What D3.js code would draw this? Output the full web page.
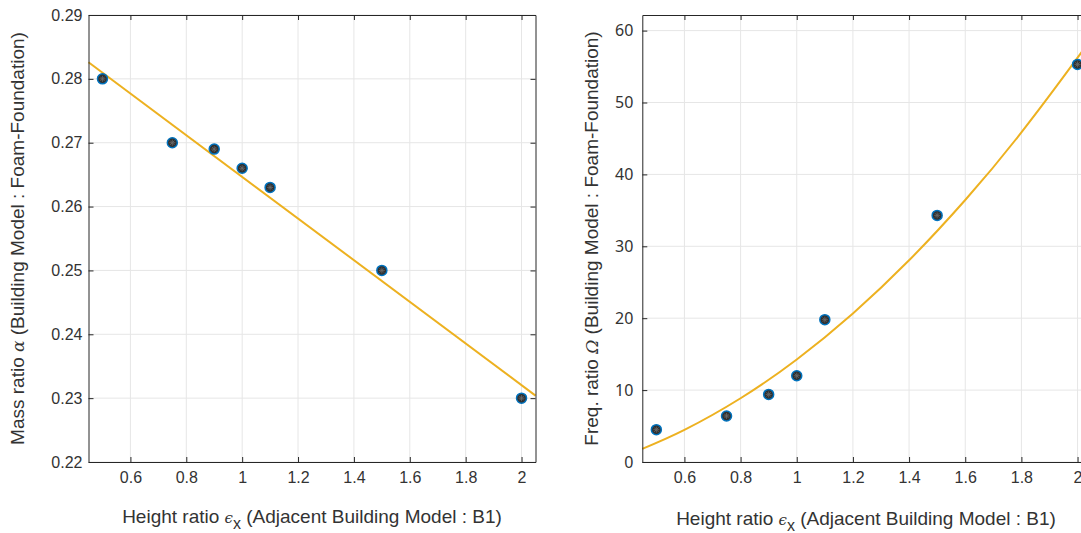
<!DOCTYPE html>
<html>
<head>
<meta charset="utf-8">
<script src="https://cdn.jsdelivr.net/npm/d3@7"></script>
<style>
  body { margin: 0; background: #fff; }
  svg { display: block; }
  .tick text { fill: #333; }
</style>
</head>
<body>
<svg id="chart" width="1081" height="533"></svg>
<script>
// measured points
var heightRatio = [0.5, 0.75, 0.9, 1.0, 1.1, 1.5, 2.0];
var massRatio = [0.280, 0.270, 0.269, 0.266, 0.263, 0.250, 0.230];
var freqRatio = [4.5, 6.4, 9.4, 12.0, 19.8, 34.3, 55.3];

// fitted lines
var massFitX = [0.45, 2.05];
var massFitY = [0.2826, 0.2304];
var freqFitX = [0.45, 0.6, 0.8, 1.0, 1.2, 1.4, 1.6, 1.8, 2.0, 2.05];
var freqFitY = [1.83, 4.47, 8.87, 14.26, 20.66, 28.05, 36.44, 45.84, 56.23, 58.99];

// ticks
var xTicks = [0.6, 0.8, 1, 1.2, 1.4, 1.6, 1.8, 2];
var massTicks = [0.22, 0.23, 0.24, 0.25, 0.26, 0.27, 0.28, 0.29];
var freqTicks = [0, 10, 20, 30, 40, 50, 60];

var svg = d3.select("#chart");
var plotTop = 15, plotBottom = 462;
var axisColor = "#262626";
var textColor = "#333";
var gridColor = "#e6e6e6";
var fitColor = "#EDB120";

function fmt(v){ return String(+v.toFixed(3)); }

function panel(opt){
  var x = d3.scaleLinear().domain([0.45, 2.05]).range([opt.left, opt.right]);
  var y = d3.scaleLinear().domain(opt.ydom).range([plotBottom, plotTop]);
  var g = svg.append("g");

  //grid
  g.selectAll(".gx").data(xTicks).enter().append("line")
    .attr("x1", function(d){ return x(d); }).attr("x2", function(d){ return x(d); })
    .attr("y1", plotTop).attr("y2", plotBottom)
    .attr("stroke", gridColor).attr("stroke-width", 1);
  g.selectAll(".gy").data(opt.yticks).enter().append("line")
    .attr("x1", opt.left).attr("x2", opt.right)
    .attr("y1", function(d){ return y(d); }).attr("y2", function(d){ return y(d); })
    .attr("stroke", gridColor).attr("stroke-width", 1);

  // fit
  var line = d3.line()
    .x(function(d){ return x(d[0]); })
    .y(function(d){ return y(d[1]); })
    .curve(d3.curveNatural);
  var fit = opt.fitX.map(function(v, i){ return [v, opt.fitY[i]]; });
  g.append("path").datum(fit)
    .attr("d", line)
    .attr("fill", "none")
    .attr("stroke", fitColor)
    .attr("stroke-width", 2);

  // markers
  var pts = heightRatio.map(function(v, i){ return [v, opt.yvals[i]]; });
  var m = g.selectAll(".pt").data(pts).enter().append("g")
    .attr("transform", function(d){ return "translate(" + x(d[0]) + "," + y(d[1]) + ")"; });
  m.append("circle").attr("r", 5)
    .attr("fill", "#2f2f2f").attr("stroke", "#0072BD").attr("stroke-width", 1.5);
  [0, 45, 90, 135].forEach(function(a){
    m.append("line").attr("x1", -3).attr("x2", 3).attr("y1", 0).attr("y2", 0)
      .attr("transform", "rotate(" + a + ")")
      .attr("stroke", "#6a6a6a").attr("stroke-width", 0.8);
  });

  // axes
  var xb = d3.axisBottom(x).tickValues(xTicks).tickFormat(fmt).tickSizeInner(-5).tickSizeOuter(0).tickPadding(10);
  var xt = d3.axisTop(x).tickValues(xTicks).tickFormat("").tickSizeInner(-5).tickSizeOuter(0);
  var yl = d3.axisLeft(y).tickValues(opt.yticks).tickFormat(fmt).tickSizeInner(-5).tickSizeOuter(0).tickPadding(opt.ypad);
  var yr = d3.axisRight(y).tickValues(opt.yticks).tickFormat("").tickSizeInner(-5).tickSizeOuter(0);

  var gb = g.append("g").attr("transform", "translate(0," + plotBottom + ")").call(xb);
  g.append("g").attr("transform", "translate(0," + plotTop + ")").call(xt);
  var gl = g.append("g").attr("transform", "translate(" + opt.left + ",0)").call(yl);
  g.append("g").attr("transform", "translate(" + opt.right + ",0)").call(yr);

  g.selectAll(".domain, .tick line").attr("stroke", axisColor);
  gb.selectAll("text").style("font-family", "'Liberation Sans', Arial, sans-serif").style("font-size", opt.xfs + "px");
  gl.selectAll("text").style("font-family", opt.yfont).style("font-size", opt.yfs + "px");
  g.selectAll(".domain").attr("stroke-width", 1);

  // x label
  var xl = g.append("text")
    .attr("x", opt.xlabX)
    .attr("y", opt.xlabY)
    .attr("text-anchor", "middle")
    .attr("fill", textColor)
    .style("font-family", "'Liberation Sans', Arial, sans-serif")
    .style("font-size", "19px");
  xl.append("tspan").text("Height ratio ");
  xl.append("tspan").text("\u03f5").style("font-family", "'DejaVu Serif', serif").style("font-style", "italic").style("font-size", "15px");
  xl.append("tspan").text("x").attr("dy", 6).style("font-size", "16px");
  xl.append("tspan").text(" (Adjacent Building Model : B1)").attr("dy", -6);

  // y label
  var ylab = g.append("text")
    .attr("transform", "translate(" + opt.ylabX + "," + ((plotTop + plotBottom) / 2) + ") rotate(-90)")
    .attr("text-anchor", "middle")
    .attr("fill", textColor)
    .style("font-family", "'Liberation Sans', Arial, sans-serif")
    .style("font-size", "19px");
  ylab.append("tspan").text(opt.ylab1);
  ylab.append("tspan").text(opt.greek).style("font-family", "'DejaVu Serif', serif").style("font-style", "italic").style("font-size", "17px");
  ylab.append("tspan").text(" (Building Model : Foam-Foundation)");
}

panel({
  left: 88.5, right: 535.5,
  ydom: [0.22, 0.29], yticks: massTicks, yvals: massRatio,
  fitX: massFitX, fitY: massFitY,
  ypad: 6, yfs: 16, xfs: 16, yfont: "'Liberation Sans', Arial, sans-serif",
  xlabX: 312, xlabY: 523,
  ylabX: 24, ylab1: "Mass ratio ", greek: "\u03b1"
});

panel({
  left: 642.3, right: 1091.6,
  ydom: [0, 62.17], yticks: freqTicks, yvals: freqRatio,
  fitX: freqFitX, fitY: freqFitY,
  ypad: 9, yfs: 16, xfs: 16, yfont: "'Noto Sans', sans-serif",
  xlabX: 866, xlabY: 525,
  ylabX: 598, ylab1: "Freq. ratio ", greek: "\u03a9"
});
</script>
</body>
</html>
